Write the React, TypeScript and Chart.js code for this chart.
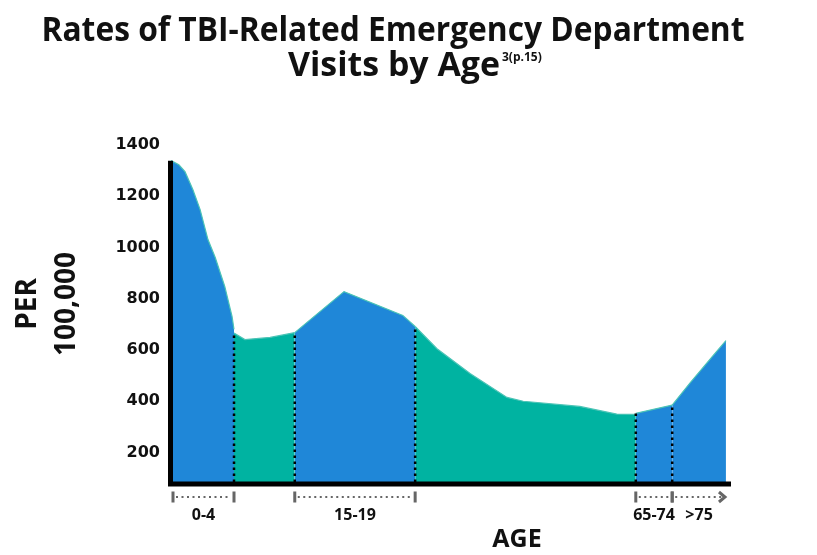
import React, { useEffect, useRef } from 'react';
import { Chart, registerables } from 'chart.js';

Chart.register(...registerables);

// ---- text ----
const TITLE_LINES = ['Rates of TBI-Related Emergency Department', 'Visits by Age'];
const TITLE_NOTE = '3(p.15)';
const Y_TITLE = ['PER', '100,000'];
const X_TITLE = 'AGE';
const Y_TICKS = [200, 400, 600, 800, 1000, 1200, 1400];

// ---- age groups ----
const AGE_GROUPS = ['0-4', '5-14', '15-19', '20-64', '65-74', '>75'];
const GROUP_LABELED = [true, false, true, false, true, true];

// ---- series values: horizontal position along the age axis (0-100) and rate per 100,000 ----
const pos0to4 = [0, 1.4, 2.5, 3.9, 5.2, 6.6, 7.9, 9.6, 10.9, 11.25];
const rate0to4 = [1339, 1323, 1296, 1226, 1148, 1031, 961, 848, 731, 681];
const pos5to14 = [11.25, 13.2, 17.7, 22.1];
const rate5to14 = [666, 641, 649, 668];
const pos15to19 = [22.1, 30.9, 41.4, 43.6];
const rate15to19 = [668, 828, 735, 692];
const pos20to64 = [43.6, 47.5, 53.4, 60.0, 62.9, 73.0, 79.6, 83.0];
const rate20to64 = [692, 605, 508, 415, 400, 380, 350, 349];
const pos65to74 = [83.0, 89.5];
const rate65to74 = [353, 385];
const pos75up = [89.5, 92.7, 96.8, 99.1];
const rate75up = [385, 472, 578, 637];

const BLUE = '#1f87d8';
const TEAL = '#00b3a1';
const EDGE = '#4cc4b6';

const SEGMENTS = [
  { pos: pos0to4, rate: rate0to4, color: BLUE },
  { pos: pos5to14, rate: rate5to14, color: TEAL },
  { pos: pos15to19, rate: rate15to19, color: BLUE },
  { pos: pos20to64, rate: rate20to64, color: TEAL },
  { pos: pos65to74, rate: rate65to74, color: BLUE },
  { pos: pos75up, rate: rate75up, color: BLUE },
];

const annotate = {
  id: 'annotate',
  afterDraw(chart: any) {
    const { ctx, chartArea, scales } = chart;
    const xs = scales.x;
    const ys = scales.y;
    const base = ys.getPixelForValue(ys.min);
    ctx.save();

    // dotted dividers between groups
    ctx.strokeStyle = '#000';
    ctx.lineWidth = 2.5;
    ctx.setLineDash([2.5, 3.5]);
    for (let i = 1; i < SEGMENTS.length; i++) {
      const px = xs.getPixelForValue(SEGMENTS[i].pos[0]);
      const py = ys.getPixelForValue(SEGMENTS[i].rate[0]);
      ctx.beginPath();
      ctx.moveTo(px, base);
      ctx.lineTo(px, py);
      ctx.stroke();
    }
    ctx.setLineDash([]);

    // axis lines
    ctx.strokeStyle = '#000';
    ctx.lineWidth = 5;
    ctx.beginPath();
    ctx.moveTo(chartArea.left - 0.5, base + 2.5);
    ctx.lineTo(chartArea.left - 0.5, ys.getPixelForValue(SEGMENTS[0].rate[0]));
    ctx.stroke();
    ctx.beginPath();
    ctx.moveTo(chartArea.left - 3, base + 2);
    ctx.lineTo(chartArea.right, base + 2);
    ctx.stroke();

    // brackets under the axis
    const by = base + 15;
    ctx.strokeStyle = '#666';
    for (let i = 0; i < SEGMENTS.length; i++) {
      if (!GROUP_LABELED[i]) continue;
      const seg = SEGMENTS[i];
      const x1 = xs.getPixelForValue(seg.pos[0]) + (i === 0 ? 2 : 0);
      const x2 = xs.getPixelForValue(seg.pos[seg.pos.length - 1]);
      const last = i === SEGMENTS.length - 1;
      ctx.lineWidth = 2;
      ctx.setLineDash([2, 3.5]);
      ctx.beginPath();
      ctx.moveTo(x1 + 3, by);
      ctx.lineTo(x2 - 3, by);
      ctx.stroke();
      ctx.setLineDash([]);
      ctx.lineWidth = 3;
      ctx.beginPath();
      ctx.moveTo(x1, by - 5.5);
      ctx.lineTo(x1, by + 5.5);
      if (!last) {
        ctx.moveTo(x2, by - 5.5);
        ctx.lineTo(x2, by + 5.5);
      }
      ctx.stroke();
      if (last) {
        ctx.beginPath();
        ctx.moveTo(x2 - 7, by - 5);
        ctx.lineTo(x2 - 1, by);
        ctx.lineTo(x2 - 7, by + 5);
        ctx.stroke();
      }
      ctx.fillStyle = '#111';
      ctx.font = 'bold 16px "Open Sans"';
      ctx.textAlign = 'center';
      ctx.textBaseline = 'middle';
      ctx.fillText(AGE_GROUPS[i], (x1 + x2) / 2, base + 33);
    }

    // x title
    ctx.fillStyle = '#111';
    ctx.font = 'bold 25px "Open Sans"';
    ctx.textAlign = 'center';
    ctx.textBaseline = 'middle';
    ctx.fillText(X_TITLE, 517, 540);

    // y title (rotated, two lines)
    ctx.save();
    ctx.font = 'bold 28px "Open Sans"';
    ctx.translate(0, 304);
    ctx.rotate(-Math.PI / 2);
    ctx.textAlign = 'center';
    ctx.textBaseline = 'middle';
    ctx.fillText(Y_TITLE[0], 0, 28);
    ctx.fillText(Y_TITLE[1], 0, 67);
    ctx.restore();

    // main title
    ctx.fillStyle = '#111';
    ctx.textAlign = 'center';
    ctx.textBaseline = 'alphabetic';
    ctx.font = 'bold 34px "Open Sans"';
    ctx.fillText(TITLE_LINES[0], 393, 41, 703);
    const w2 = Math.min(ctx.measureText(TITLE_LINES[1]).width, 212);
    ctx.fillText(TITLE_LINES[1], 394, 76, 212);
    ctx.font = 'bold 12px "Open Sans"';
    ctx.textAlign = 'left';
    ctx.textBaseline = 'top';
    ctx.fillText(TITLE_NOTE, 394 + w2 / 2 + 2, 52);

    ctx.restore();
  },
};

export default function App() {
  const ref = useRef<HTMLCanvasElement | null>(null);
  useEffect(() => {
    if (!ref.current) return;
    const chart = new Chart(ref.current, {
      type: 'line',
      data: {
        datasets: SEGMENTS.map((s, i) => ({
          label: AGE_GROUPS[i],
          data: s.pos.map((p, j) => ({ x: p, y: s.rate[j] })),
          backgroundColor: s.color,
          borderColor: EDGE,
          borderWidth: 1.2,
          fill: 'start',
          pointRadius: 0,
          tension: 0,
        })),
      },
      options: {
        animation: false,
        responsive: true,
        maintainAspectRatio: false,
        layout: { padding: { top: 145, bottom: 73, right: 86, left: 0 } },
        plugins: { legend: { display: false }, title: { display: false }, tooltip: { enabled: false } },
        scales: {
          x: { type: 'linear', min: 0, max: 100, display: false },
          y: {
            min: 85,
            max: 1400,
            afterBuildTicks: (scale: any) => {
              scale.ticks = Y_TICKS.map((v) => ({ value: v }));
            },
            afterFit: (scale: any) => {
              scale.width = 171;
            },
            grid: { display: false, drawTicks: false },
            border: { display: false },
            ticks: {
              padding: 11,
              color: '#111',
              callback: (v: any) => String(v),
              font: { family: '"DejaVu Sans"', weight: 'bold', size: 16 },
            },
          },
        },
      },
      plugins: [annotate],
    });
    return () => chart.destroy();
  }, []);
  return (
    <div style={{ position: 'fixed', left: 0, top: 0, width: 817, height: 555, background: '#fff' }}>
      <canvas ref={ref} />
    </div>
  );
}
